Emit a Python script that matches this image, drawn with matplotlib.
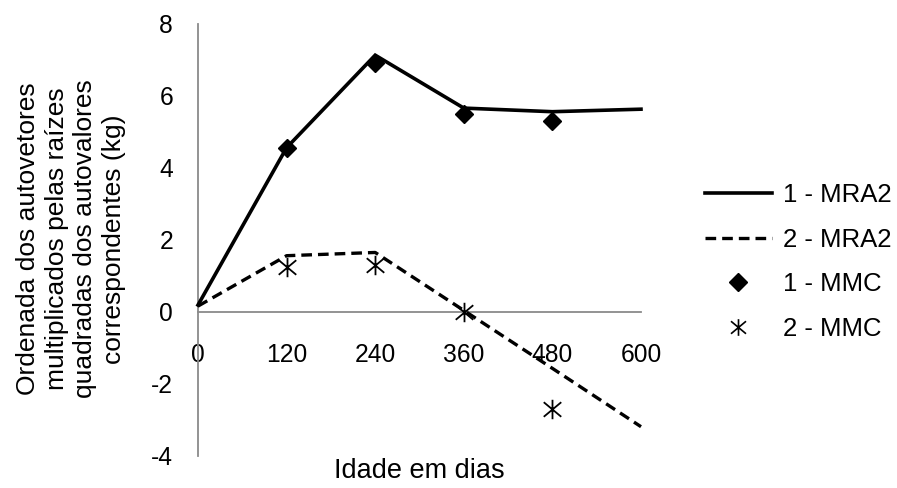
import matplotlib
matplotlib.use("Agg")
import matplotlib.pyplot as plt
from matplotlib.path import Path
from matplotlib.lines import Line2D

plt.rcParams['font.family'] = ['Liberation Sans', 'DejaVu Sans']

# Data
idade = [0, 120, 240, 360, 480, 600]
mra2_1 = [0.18, 4.55, 7.12, 5.65, 5.55, 5.62]
mra2_2 = [0.15, 1.55, 1.64, 0.03, -1.58, -3.2]
mmc_x = [120, 240, 360, 480]
mmc_1 = [4.55, 6.89, 5.5, 5.3]
mmc_2 = [1.25, 1.29, 0.0, -2.71]
x_ticks = [0, 120, 240, 360, 480, 600]
y_ticks = [-4, -2, 0, 2, 4, 6, 8]

FS_TICK = 17.7
FS_TITLE = 19.5
FS_YLAB = 19.0
FS_LEG = 18.5
W, H = 897, 488
fig = plt.figure(figsize=(W / 100, H / 100), dpi=100)
ax = fig.add_axes([198 / W, 1 - 455.5 / H, (641 - 198) / W, (455.5 - 23.5) / H])

star = Path([(0, -1), (0, 1), (-0.9, -0.75), (0.9, 0.75), (-0.9, 0.75), (0.9, -0.75)],
            [Path.MOVETO, Path.LINETO, Path.MOVETO, Path.LINETO, Path.MOVETO, Path.LINETO])

ax.plot(idade, mra2_1, color='black', lw=2.6, solid_joinstyle='miter', clip_on=False, zorder=3)
ax.plot(idade, mra2_2, color='black', lw=2.4, ls=(0, (3.2, 1.8)), clip_on=False, zorder=3)
ax.plot(mmc_x, mmc_1, ls='none', marker='D', ms=9.5, color='black', zorder=4)
ax.plot(mmc_x, mmc_2, ls='none', marker=star, ms=14, mew=1.3, color='black', mfc='none', zorder=4)

for s in ['top', 'right']:
    ax.spines[s].set_visible(False)
ax.spines['bottom'].set_position(('data', 0))
ax.spines['left'].set_position(('data', 0))
for s in ['bottom', 'left']:
    ax.spines[s].set_color('#8a8a8a')
    ax.spines[s].set_linewidth(1.3)

ax.set_xlim(0, 600)
ax.set_ylim(-4, 8)
ax.set_xticks(x_ticks)
ax.set_yticks(y_ticks)
ax.set_xticklabels([str(v) for v in x_ticks])
ax.set_yticklabels([str(v) for v in y_ticks])
ax.tick_params(axis='x', length=0, pad=22.5, labelsize=FS_TICK)
ax.tick_params(axis='y', length=0, pad=18, labelsize=FS_TICK)

fig.text(419.5 / W, 1 - 471 / H, 'Idade em dias', fontsize=FS_TITLE, ha='center', va='center')
fig.text(71 / W, 1 - 239 / H,
         'Ordenada dos autovetores\nmultiplicados pelas raízes\nquadradas dos autovalores\ncorrespondentes (kg)',
         fontsize=FS_YLAB, rotation=90, ha='center', va='center', multialignment='center', linespacing=1.25)

handles = [
    Line2D([], [], color='black', lw=2.6),
    Line2D([], [], color='black', lw=2.4, ls=(0, (3.2, 1.8))),
    Line2D([], [], color='black', ls='none', marker='D', ms=9.5),
    Line2D([], [], color='black', ls='none', marker=star, ms=12, mew=1.2),
]
labels = ['1 - MRA2', '2 - MRA2', '1 - MMC', '2 - MMC']
fig.legend(handles, labels, loc='upper left', bbox_to_anchor=(705 / W, 1 - 183 / H),
           frameon=False, fontsize=FS_LEG, handlelength=2.6, handletextpad=0.42,
           labelspacing=0.8, borderpad=0, borderaxespad=0)

fig.savefig('out.png', dpi=100)
